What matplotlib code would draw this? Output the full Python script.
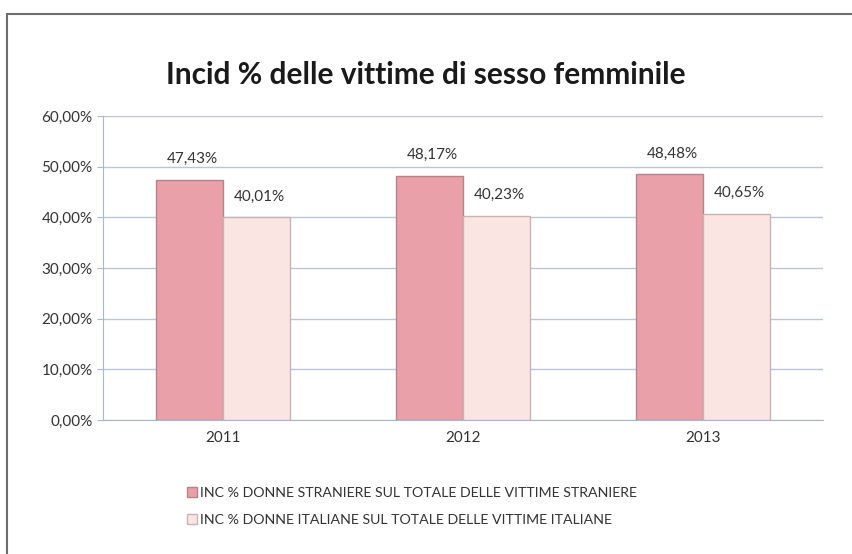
import matplotlib
matplotlib.use("Agg")
import matplotlib.pyplot as plt
import numpy as np
from matplotlib.patches import Rectangle
from matplotlib.ticker import FuncFormatter

years = ["2011", "2012", "2013"]
straniere = [47.43, 48.17, 48.48]
italiane = [40.01, 40.23, 40.65]
series_labels = [
    "INC % DONNE STRANIERE SUL TOTALE DELLE VITTIME STRANIERE",
    "INC % DONNE ITALIANE SUL TOTALE DELLE VITTIME ITALIANE",
]

plt.rcParams["font.family"] = ["Lato", "DejaVu Sans"]

fig = plt.figure(figsize=(8.52, 5.54), dpi=100)
fig.patches.append(
    Rectangle((7 / 852, -0.01), 1.0, 1 - 14 / 554 + 0.01, transform=fig.transFigure,
              fill=False, edgecolor="#6e6e6e", linewidth=1.5)
)
ax = fig.add_axes([103 / 852, 134 / 554, 720 / 852, 304 / 554])

x = np.arange(len(years))
w = 0.28
b1 = ax.bar(x - w / 2, straniere, w, color="#eaa0a8", edgecolor="#b98088",
            linewidth=1, zorder=3, label=series_labels[0])
b2 = ax.bar(x + w / 2, italiane, w, color="#fbe5e3", edgecolor="#c9b4b4",
            linewidth=1, zorder=3, label=series_labels[1])

for bars, vals in ((b1, straniere), (b2, italiane)):
    for bar, v in zip(bars, vals):
        ax.annotate(f"{v:.2f}%".replace(".", ","),
                    (bar.get_x() + bar.get_width() / 2, v),
                    xytext=(2, 10), textcoords="offset points",
                    ha="center", va="bottom", fontsize=11, color="#333333")

ax.set_xlim(-0.5, len(years) - 0.5)
ax.set_ylim(0, 60)
ax.set_yticks(np.arange(0, 61, 10))
ax.yaxis.set_major_formatter(FuncFormatter(lambda v, p: f"{v:.2f}%".replace(".", ",")))
ax.set_xticks(x)
ax.set_xticklabels(years)
ax.tick_params(axis="both", labelsize=11, colors="#333333", length=4)
ax.tick_params(axis="y", color="#a9b6cc")
ax.tick_params(axis="x", length=0, pad=8)
ax.grid(axis="y", color="#b9c5da", linewidth=1, zorder=0)
for s in ["top", "right"]:
    ax.spines[s].set_visible(False)
ax.spines["left"].set_color("#a9b6cc")
ax.spines["bottom"].set_color("#a9b6cc")

fig.text(0.5, 1 - 75 / 554, "Incid % delle vittime di sesso femminile",
         ha="center", va="center", fontsize=21.5, fontweight="bold", color="#1a1a1a")

fig.legend(handles=[b1, b2], loc="upper left", bbox_to_anchor=(174 / 852, 1 - 474 / 554),
           frameon=False, fontsize=10.2, handlelength=0.7, handleheight=0.7,
           handletextpad=0.2, labelspacing=1.1, labelcolor="#333333")

fig.savefig("out.png", dpi=100)
